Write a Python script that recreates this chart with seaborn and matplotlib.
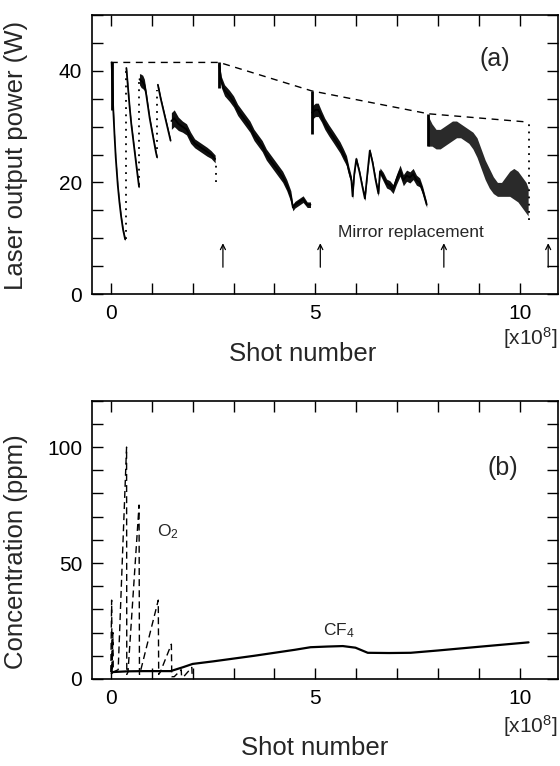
import numpy as np
import pandas as pd
import matplotlib
matplotlib.use('Agg')
import matplotlib.pyplot as plt
import seaborn as sns

# ---------------- Panel (a): laser output power (W) vs shot number [x1e8] -------------
seg1_x = [0.02, 0.04, 0.06, 0.09, 0.12, 0.17, 0.21, 0.25, 0.30, 0.35]
seg1_y = [41.5, 37.0, 33.0, 28.5, 24.5, 19.5, 16.5, 14.0, 11.5, 9.8]
seg1_w = [0.5, 1.5, 0.8, 0.3, 0.3, 0.3, 0.3, 0.3, 0.3, 0.3]

seg2_x = [0.38, 0.42, 0.46, 0.50, 0.55, 0.60, 0.65, 0.69]
seg2_y = [40.5, 37.0, 33.5, 30.5, 27.5, 24.5, 21.5, 19.2]
seg2_w = [0.3, 0.3, 0.3, 0.3, 0.3, 0.3, 0.3, 0.3]

seg3_x = [0.70, 0.74, 0.78, 0.82, 0.86, 0.90, 0.95, 1.00, 1.05, 1.10, 1.13]
seg3_y = [38.5, 38.2, 38.0, 37.5, 36.0, 34.0, 31.5, 29.5, 27.5, 25.5, 24.5]
seg3_w = [1.0, 1.2, 1.2, 1.0, 0.6, 0.4, 0.3, 0.3, 0.3, 0.3, 0.3]

seg4_x = [1.15, 1.22, 1.30, 1.38, 1.46]
seg4_y = [37.5, 35.0, 32.5, 30.0, 27.5]
seg4_w = [0.3, 0.3, 0.3, 0.3, 0.3]

seg5_x = [1.48, 1.55, 1.65, 1.75, 1.85, 1.95, 2.05, 2.15, 2.25, 2.35, 2.45, 2.55]
seg5_y = [31.0, 31.5, 30.5, 30.0, 29.5, 28.0, 27.0, 26.5, 26.0, 25.5, 25.0, 24.2]
seg5_w = [1.5, 1.5, 1.2, 1.0, 1.0, 1.0, 0.8, 0.8, 0.8, 0.8, 0.7, 0.7]

seg6_x = [2.65, 2.70, 2.78, 2.90, 3.00, 3.10, 3.20, 3.30, 3.40, 3.50, 3.60, 3.70, 3.80,
          3.90, 4.00, 4.10, 4.20, 4.30, 4.40, 4.45, 4.50, 4.60, 4.70, 4.80, 4.88]
seg6_y = [41.0, 38.0, 36.5, 35.5, 34.5, 33.0, 32.0, 31.0, 30.0, 28.5, 27.5, 26.5, 25.0,
          24.0, 23.0, 22.0, 21.0, 19.5, 17.5, 15.5, 16.0, 16.5, 17.0, 16.0, 16.0]
seg6_w = [0.6, 1.0, 1.0, 1.0, 1.0, 1.0, 1.0, 1.0, 1.0, 1.0, 1.0, 1.0, 1.0,
          1.0, 1.0, 1.0, 1.0, 1.0, 1.0, 0.6, 0.6, 0.6, 0.6, 0.5, 0.5]

seg7_x = [4.92, 5.00, 5.07, 5.15, 5.23, 5.33, 5.44, 5.52, 5.60, 5.68, 5.76, 5.82, 5.88,
          5.91, 5.95, 6.00, 6.08, 6.15, 6.21, 6.27, 6.33, 6.40, 6.47, 6.54, 6.58, 6.66,
          6.74, 6.82, 6.90, 6.98, 7.07, 7.15, 7.23, 7.31, 7.39, 7.47, 7.55, 7.62, 7.72]
seg7_y = [32.5, 33.0, 33.0, 31.8, 30.5, 29.3, 28.1, 27.2, 26.3, 25.1, 23.9, 22.0, 20.4,
          17.5, 21.5, 24.2, 21.8, 19.2, 17.1, 21.5, 25.7, 23.5, 20.5, 18.0, 22.0, 21.0,
          19.8, 19.5, 18.8, 20.5, 22.1, 20.4, 21.2, 20.9, 21.5, 20.4, 20.0, 18.6, 16.0]
seg7_w = [1.2, 1.2, 1.2, 1.0, 1.0, 1.0, 1.0, 1.0, 1.0, 1.0, 0.9, 0.8, 0.7,
          0.5, 0.4, 0.4, 0.4, 0.4, 0.4, 0.4, 0.4, 0.4, 0.5, 0.5, 0.6, 0.8,
          0.8, 0.8, 0.8, 0.9, 1.0, 1.0, 1.0, 1.0, 1.0, 0.9, 0.8, 0.7, 0.5]

seg8_x = [7.75, 7.85, 7.95, 8.05, 8.15, 8.25, 8.35, 8.45, 8.55, 8.65, 8.75, 8.85, 8.95,
          9.05, 9.15, 9.25, 9.35, 9.45, 9.55, 9.65, 9.75, 9.85, 9.95, 10.05, 10.15, 10.20]
seg8_hi = [32.0, 30.5, 29.5, 29.5, 30.0, 30.5, 31.0, 31.0, 30.5, 30.0, 29.5, 29.0, 28.0,
           26.0, 24.0, 22.5, 21.0, 20.0, 20.0, 21.0, 22.0, 22.5, 22.0, 21.0, 20.0, 19.0]
seg8_lo = [26.5, 26.5, 26.0, 26.0, 26.5, 27.0, 27.5, 28.0, 28.0, 27.5, 27.0, 26.0, 24.5,
           22.5, 20.5, 19.0, 18.0, 17.5, 17.5, 17.5, 17.5, 17.0, 16.5, 15.5, 14.5, 14.0]

# dense vertical spikes at the start of runs, and sparse dotted drops
spike_x = [0.03, 2.64, 4.91, 7.76]
spike_top = [41.5, 41.5, 36.4, 32.3]
spike_bot = [33.0, 37.0, 28.7, 26.5]

drop_x = [0.365, 0.69, 1.14, 2.58, 10.22]
drop_top = [40.3, 38.5, 36.5, 23.5, 30.7]
drop_bot = [9.8, 19.5, 26.0, 20.0, 13.2]

# dashed envelope of the initial power
env_x = [0.0, 2.65, 4.91, 7.76, 10.22]
env_y = [41.5, 41.5, 36.4, 32.3, 30.8]

# mirror replacement arrows
mirror_x = [2.74, 5.12, 8.14, 10.69]
arrow_y0, arrow_y1 = 4.8, 9.1

# ---------------- Panel (b): concentrations (ppm) ------------------------------------
cf4_x = [0.02, 0.05, 0.40, 0.80, 1.20, 1.46, 1.75, 2.00, 2.50, 3.00, 3.50, 4.00,
         4.50, 4.88, 5.30, 5.67, 5.98, 6.28, 6.80, 7.33, 8.00, 9.00, 10.21]
cf4_y = [2.5, 3.0, 3.3, 3.4, 3.4, 3.4, 5.0, 6.5, 7.6, 8.8, 10.0, 11.3,
         12.6, 13.7, 14.0, 14.2, 13.5, 11.3, 11.2, 11.3, 12.3, 13.9, 15.8]

o2_x = [0.00, 0.02, 0.03, 0.05, 0.06, 0.18, 0.385, 0.39, 0.42, 0.69, 0.70, 0.72,
        1.16, 1.17, 1.21, 1.48, 1.49, 1.55, 1.72, 1.73, 1.78, 1.98, 1.99]
o2_y = [3, 34, 3, 20, 3, 4, 100, 2, 3, 75, 2, 3,
        34, 2, 3, 15, 1, 1, 4, 1, 1, 5, 1]

x_ticks = list(range(0, 11))
x_labels = ['0', '', '', '', '', '5', '', '', '', '', '10']
a_yticks = list(range(0, 51, 5))
a_ylabels = ['0', '', '', '', '20', '', '', '', '40', '', '']
b_yticks = list(range(0, 121, 10))
b_ylabels = ['0', '', '', '', '', '50', '', '', '', '', '100', '', '']

# ---------------- styling --------------------------------------------------------------
sns.set_theme(style='ticks')
plt.rcParams['font.family'] = ['Liberation Sans', 'DejaVu Sans']
plt.rcParams['mathtext.fontset'] = 'custom'
plt.rcParams['mathtext.rm'] = 'Liberation Sans'
plt.rcParams['mathtext.it'] = 'Liberation Sans:italic'

fig = plt.figure(figsize=(5.6, 7.66), dpi=100)
W, H = 560.0, 766.0
ax1 = fig.add_axes([92 / W, 1 - 294 / H, 466 / W, 279 / H])
ax2 = fig.add_axes([92 / W, 1 - 679 / H, 466 / W, 278.3 / H])


def style_axes(ax, yticks, ylabels, ymax):
    ax.set_xlim(-0.46, 10.93)
    ax.set_ylim(0, ymax)
    ax.set_xticks(x_ticks)
    ax.set_xticklabels(x_labels)
    ax.set_yticks(yticks)
    ax.set_yticklabels(ylabels)
    ax.tick_params(direction='in', length=8, width=1.0, top=True, right=True,
                   labelsize=15, pad=7, colors='black')
    for s in ax.spines.values():
        s.set_linewidth(1.2)
        s.set_color('black')
    ax.set_xlabel('')
    ax.set_ylabel('')


# panel (a)
segs = [(seg1_x, seg1_y, seg1_w), (seg2_x, seg2_y, seg2_w), (seg3_x, seg3_y, seg3_w),
        (seg4_x, seg4_y, seg4_w), (seg5_x, seg5_y, seg5_w), (seg6_x, seg6_y, seg6_w),
        (seg7_x, seg7_y, seg7_w)]
for sx, sy, sw in segs:
    sx = np.array(sx); sy = np.array(sy); sw = np.array(sw)
    ax1.fill_between(sx, sy - sw, sy + sw, color='#111111', lw=0)
    sns.lineplot(x=sx, y=sy, ax=ax1, color='black', lw=1.3, estimator=None, sort=False)

ax1.fill_between(seg8_x, seg8_lo, seg8_hi, color='#2a2a2a', lw=0)
ax1.vlines(spike_x, spike_bot, spike_top, colors='black', lw=2.0)
ax1.vlines(drop_x, drop_bot, drop_top, colors='black', lw=1.3, linestyles=(0, (1, 3)))
sns.lineplot(x=env_x, y=env_y, ax=ax1, color='black', lw=1.0, estimator=None, sort=False,
             dashes=False, linestyle=(0, (5, 4)))

for mx in mirror_x:
    ax1.annotate('', xy=(mx, arrow_y1), xytext=(mx, arrow_y0),
                 arrowprops=dict(arrowstyle='->', lw=0.9, color='black',
                                 shrinkA=0, shrinkB=0, mutation_scale=9))
ax1.text(7.34, 11.0, 'Mirror replacement', fontsize=12.5, ha='center', va='center')
ax1.text(9.39, 42.2, '(a)', fontsize=18, ha='center', va='center')
style_axes(ax1, a_yticks, a_ylabels, 50)

# panel (b)
sns.lineplot(x=cf4_x, y=cf4_y, ax=ax2, color='black', lw=1.6, estimator=None, sort=False)
sns.lineplot(x=o2_x, y=o2_y, ax=ax2, color='black', lw=1.0, estimator=None, sort=False,
             dashes=False, linestyle=(0, (5, 3)))
ax2.text(1.39, 63.5, r'O$_\mathregular{2}$', fontsize=12.5, ha='center', va='center')
ax2.text(5.58, 21.0, r'CF$_\mathregular{4}$', fontsize=12.5, ha='center', va='center')
ax2.text(9.58, 91.0, '(b)', fontsize=18, ha='center', va='center')
style_axes(ax2, b_yticks, b_ylabels, 120)

# axis titles
fig.text(16 / W, 1 - 155 / H, 'Laser output power (W)', rotation=90, fontsize=18.5,
         ha='center', va='center')
fig.text(16 / W, 1 - 552 / H, 'Concentration (ppm)', rotation=90, fontsize=18.5,
         ha='center', va='center')
fig.text(303 / W, 1 - 354 / H, 'Shot number', fontsize=18.5, ha='center', va='center')
fig.text(315 / W, 1 - 748 / H, 'Shot number', fontsize=18.5, ha='center', va='center')
fig.text(558 / W, 1 - 338 / H, r'[x10$^\mathregular{8}$]', fontsize=15, ha='right', va='center')
fig.text(558 / W, 1 - 726 / H, r'[x10$^\mathregular{8}$]', fontsize=15, ha='right', va='center')

fig.savefig('out.png', dpi=100)
